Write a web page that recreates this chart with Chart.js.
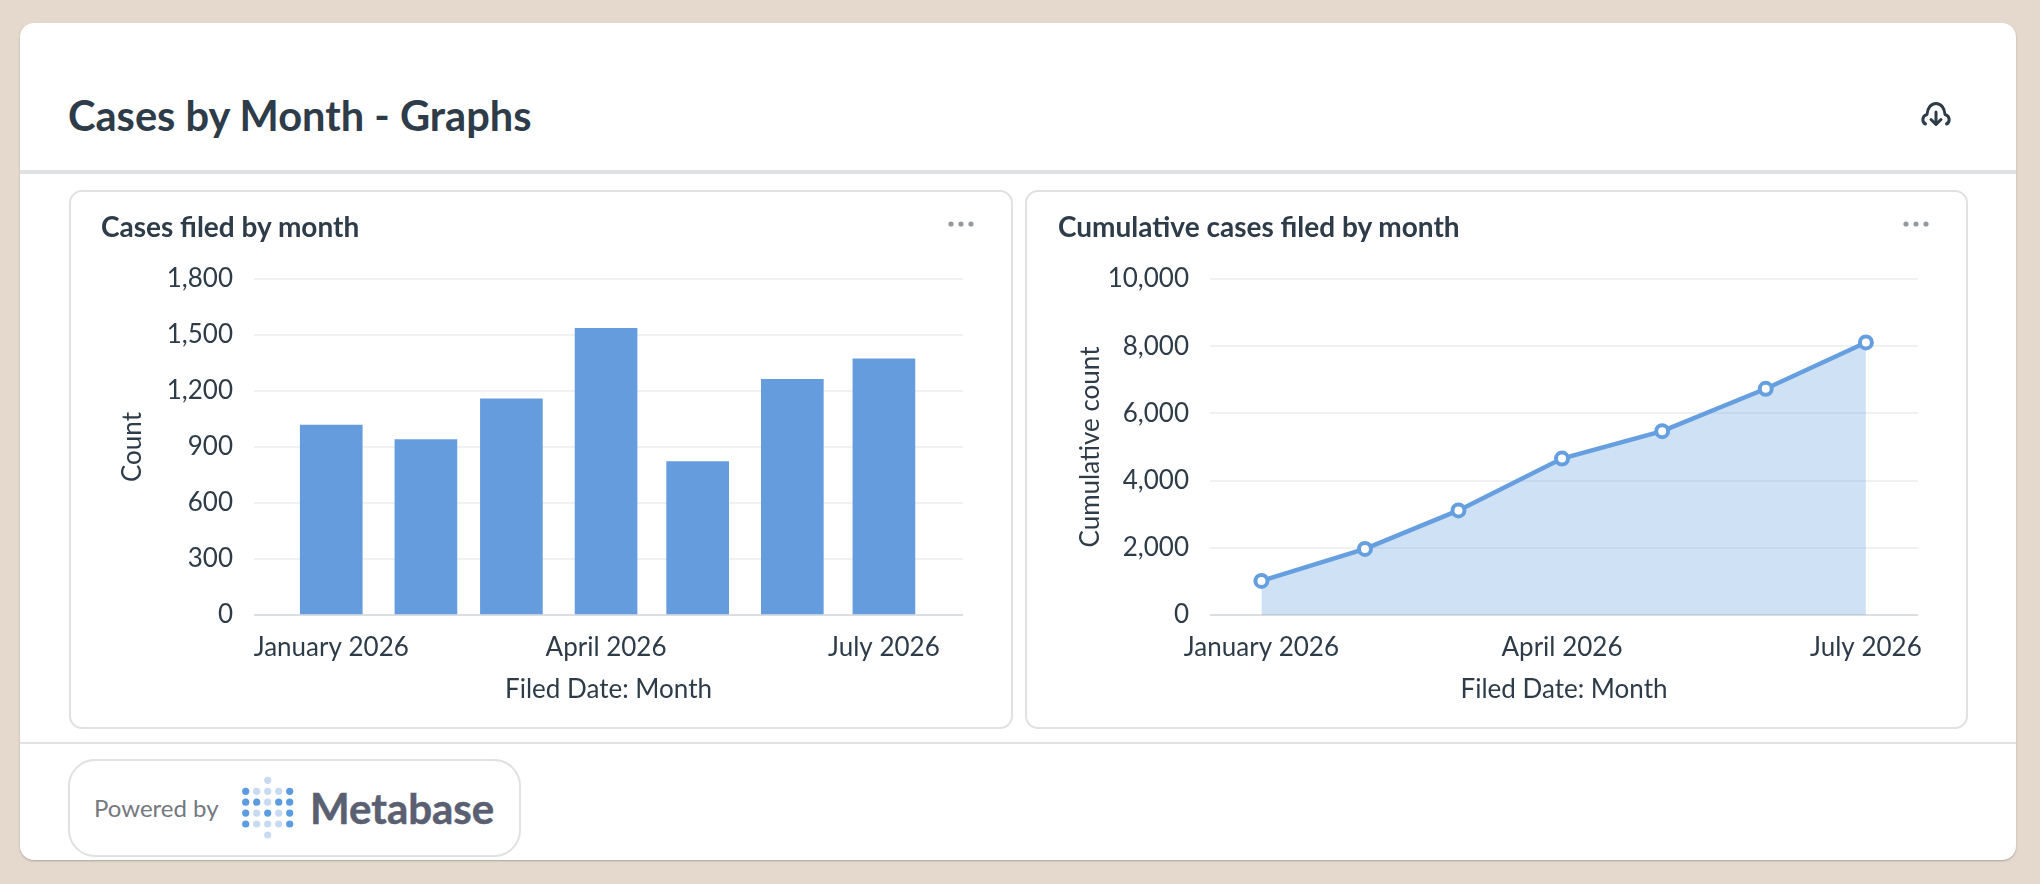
<!DOCTYPE html>
<html>
<head>
<meta charset="utf-8">
<title>Cases by Month - Graphs</title>
<script src="https://cdn.jsdelivr.net/npm/chart.js@4"></script>
<style>
  html, body { margin: 0; padding: 0; width: 2040px; height: 884px; overflow: hidden; background: #e5d9cd; font-family: Lato, sans-serif; }
  .abs { position: absolute; }
  #card { left: 20px; top: 23px; width: 1996px; height: 837px; background: #fff; border-radius: 14px; box-shadow: 0 1px 2px rgba(60,70,80,.35); }
  #headline { left: 68px; top: 90px; margin: 0; font-size: 41.6px; line-height: 50px; font-weight: 700; color: #2e3b48; white-space: nowrap; }
  #rule1 { left: 20px; top: 170px; width: 1996px; height: 4px; background: #dfe1e3; }
  #rule2 { left: 20px; top: 742px; width: 1996px; height: 2px; background: #e0e2e3; }
  .panel { box-sizing: border-box; top: 190px; width: 943px; height: 539px; border: 2px solid #dfe1e2; border-radius: 13px; background: #fff; }
  .panel canvas { position: absolute; left: -2px; top: -2px; }
  .panel h2 { position: absolute; left: 31px; top: 17px; margin: 0; font-size: 28px; line-height: 34px; font-weight: 700; color: #2e3b48; white-space: nowrap; z-index: 2; }
  .panel svg { position: absolute; top: 29px; right: 37px; }
  #powered { box-sizing: border-box; left: 68px; top: 759px; width: 453px; height: 98px; border: 2px solid #dfe1e2; border-radius: 27px; }
  #poweredText { left: 94px; top: 793px; font-size: 24px; line-height: 30px; color: #74787f; white-space: nowrap; }
  #brand { left: 310px; top: 781px; font-size: 42px; line-height: 54px; font-weight: 700; color: #5a6072; white-space: nowrap; -webkit-text-stroke: .5px #5a6072; }
</style>
</head>
<body>
<div id="card" class="abs"></div>
<h1 id="headline" class="abs">Cases by Month - Graphs</h1>
<svg class="abs" style="left:1920px;top:101px" width="32" height="26" viewBox="0 0 32 26" fill="none" stroke="#2e3b48" stroke-width="3" stroke-linecap="round" stroke-linejoin="round">
  <path d="M5.5 23 C2 21.5 1.5 15 7 13.5 C7.5 7 11 2.5 16 2.5 C21 2.5 24.5 7 25 13.5 C30.5 15 30 21.5 26.5 23"/>
  <path d="M16 11 V23 M11 18.5 L16 23.5 L21 18.5"/>
</svg>
<div id="rule1" class="abs"></div>

<div class="panel abs" style="left:69px;width:944px">
  <h2 style="left:30px">Cases filed by month</h2>
  <svg width="26" height="6" viewBox="0 0 26 6" fill="#959a9f"><circle cx="3" cy="3" r="2.6"/><circle cx="13" cy="3" r="2.6"/><circle cx="23" cy="3" r="2.6"/></svg>
  <canvas id="barChart" width="943" height="539" style="left:-1px"></canvas>
</div>
<div class="panel abs" style="left:1025px">
  <h2>Cumulative cases filed by month</h2>
  <svg width="26" height="6" viewBox="0 0 26 6" fill="#959a9f"><circle cx="3" cy="3" r="2.6"/><circle cx="13" cy="3" r="2.6"/><circle cx="23" cy="3" r="2.6"/></svg>
  <canvas id="lineChart" width="943" height="539"></canvas>
</div>

<div id="rule2" class="abs"></div>
<div id="powered" class="abs"></div>
<div id="poweredText" class="abs">Powered by</div>
<svg id="logo" class="abs" style="left:240px;top:774px" width="56" height="68" viewBox="0 0 56 68"></svg>
<div id="brand" class="abs">Metabase</div>

<script>
// Datos
const monthDays = [0, 31, 59, 90, 120, 151, 181]; // dias desde el 1 de enero
const monthlyCases = [1017, 940, 1158, 1536, 822, 1262, 1373];
const cumulativeCases = [1013, 1966, 3112, 4655, 5472, 6732, 8112];
const xTickDays = [0, 90, 181];
const xTickLabels = ["January 2026", "April 2026", "July 2026"];
const barTicks = [0, 300, 600, 900, 1200, 1500, 1800];
const lineTicks = [0, 2000, 4000, 6000, 8000, 10000];

const textColor = "#2e3b48";
const barColor = "#659cdd";
const lineColor = "#659fe0";

function axisOptions(yTicks, xMin, xMax, yTitle, yWidth) {
  return {
    x: {
      type: "linear",
      offset: false,
      min: xMin,
      max: xMax,
      grid: { display: false, offset: false },
      border: { display: false },
      afterBuildTicks: scale => { scale.ticks = xTickDays.map(v => ({ value: v })); },
      afterFit: scale => { scale.height = 90; scale.paddingLeft = 0; scale.paddingRight = 0; },
      ticks: {
        autoSkip: false,
        maxRotation: 0,
        padding: 9,
        color: textColor,
        font: { family: "Lato", size: 26 },
        callback: value => xTickLabels[xTickDays.indexOf(value)]
      },
      title: {
        display: true,
        text: "Filed Date: Month",
        color: textColor,
        font: { family: "Lato", size: 26 },
        padding: 0
      }
    },
    y: {
      min: yTicks[0],
      max: yTicks[yTicks.length - 1],
      grid: {
        lineWidth: 2,
        drawTicks: false,
        color: ctx => ctx.tick.value === 0 ? "#dcdfe1" : "#f0f1f2"
      },
      border: { display: false },
      afterBuildTicks: scale => { scale.ticks = yTicks.map(v => ({ value: v })); },
      afterFit: scale => { scale.width = yWidth; scale.paddingTop = 0; scale.paddingBottom = 0; },
      ticks: {
        padding: 21,
        color: textColor,
        font: { family: "Lato", size: 26 },
        callback: value => value.toLocaleString("en-US")
      },
      title: {
        display: true,
        text: yTitle,
        color: textColor,
        font: { family: "Lato", size: 26 },
        padding: 0
      }
    }
  };
}

const sharedOptions = {
  responsive: false,
  animation: false,
  devicePixelRatio: 1,
  plugins: { legend: { display: false }, tooltip: { enabled: false } }
};

new Chart(document.getElementById("barChart"), {
  type: "bar",
  data: {
    datasets: [{
      label: "Count",
      data: monthDays.map((d, i) => ({ x: d, y: monthlyCases[i] })),
      backgroundColor: barColor,
      barThickness: 62
    }]
  },
  options: {
    ...sharedOptions,
    layout: { padding: { left: 47, right: 50, top: 89, bottom: 24 } },
    scales: axisOptions(barTicks, -25.3, 206.9, "Count", 137)
  }
});

new Chart(document.getElementById("lineChart"), {
  type: "line",
  data: {
    datasets: [{
      label: "Cumulative count",
      data: monthDays.map((d, i) => ({ x: d, y: cumulativeCases[i] })),
      borderColor: lineColor,
      borderWidth: 4.5,
      backgroundColor: "rgba(101,159,224,.31)",
      fill: "origin",
      tension: 0,
      pointRadius: 6,
      pointBorderWidth: 4,
      pointBackgroundColor: "#fff",
      pointBorderColor: lineColor
    }]
  },
  options: {
    ...sharedOptions,
    layout: { padding: { left: 50, right: 50, top: 89, bottom: 24 } },
    scales: axisOptions(lineTicks, -15.4, 196.6, "Cumulative count", 135)
  }
});

// Logo de puntos
const logoRows = ["DLLLD", "DDLDD", "DLDLD", "DLLLD"];
const logo = document.getElementById("logo");
function addDot(cx, cy, fill) {
  const c = document.createElementNS("http://www.w3.org/2000/svg", "circle");
  c.setAttribute("cx", cx);
  c.setAttribute("cy", cy);
  c.setAttribute("r", 3.6);
  c.setAttribute("fill", fill);
  logo.appendChild(c);
}
logoRows.forEach((row, r) => {
  [...row].forEach((k, c) => addDot(5.7 + c * 11, 17.3 + r * 10.9, k === "D" ? "#5b9ce0" : "#c8daf1"));
});
addDot(27.7, 6.3, "#c8daf1");
addDot(27.7, 61, "#c8daf1");
</script>
</body>
</html>
